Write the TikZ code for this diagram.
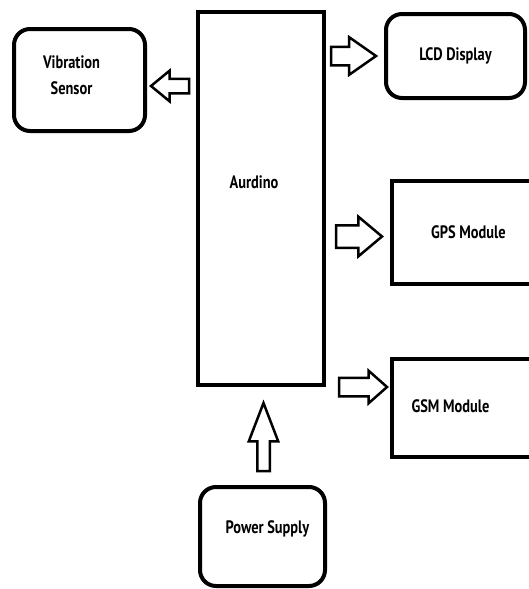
\documentclass[tikz,border=0pt]{standalone}
\usepackage{fontspec}
\newfontfamily\blockfont[FakeStretch=0.8]{PT Sans}
\usetikzlibrary{positioning, shapes.arrows}

\begin{document}
\begin{tikzpicture}[
  x=1pt, y=-1pt,
  lbl/.style={font=\blockfont\bfseries\fontsize{18}{26}\selectfont},
  blk/.style={draw, line width=4pt, outer sep=0pt, align=center, lbl},
  rblk/.style={blk, rounded corners=16pt},
  barrow/.style={single arrow, draw, fill=white, line width=2.5pt, outer sep=0pt,
                 minimum width=0pt, single arrow head indent=0pt},
]
  \useasboundingbox (0,0) rectangle (529,589);

  % Controller
  \node[blk, minimum width=126pt, minimum height=373pt,
        label={[xshift=-7pt, yshift=16pt, lbl]center:Aurdino}]
        (ard) at (261,198.5) {};

  % Peripherals
  \node[rblk, minimum width=131pt, minimum height=102pt,
        label={[xshift=-8pt, yshift=5pt, align=center, lbl]center:Vibration\\Sensor}]
        (vib) at (79.5,80) {};
  \node[rblk, minimum width=139pt, minimum height=84pt] (lcd) at (455.5,56) {LCD Display};
  \node[blk, minimum width=153pt, minimum height=103pt] (gps) at (468.5,232.5) {GPS Module};
  \node[blk, minimum width=153pt, minimum height=98pt,
        label={[xshift=-18pt, yshift=2pt, lbl]center:GSM Module}]
        (gsm) at (468.5,408) {};
  \node[rblk, minimum width=125pt, minimum height=99pt,
        label={[xshift=5pt, yshift=8pt, lbl]center:Power Supply}]
        (pwr) at (262.5,536.5) {};

  % Block arrows
  \node[barrow, shape border rotate=180, anchor=tail, minimum height=38pt,
        inner xsep=0pt, inner ysep=6pt, single arrow head extend=8pt, single arrow tip angle=79]
        (tovib) at ([xshift=-9pt, yshift=-6pt]ard.west |- vib.center) {};
  \node[barrow, anchor=tail, minimum height=45pt,
        inner xsep=0pt, inner ysep=8pt, single arrow head extend=9.5pt, single arrow tip angle=70]
        (tolcd) at ([xshift=7pt]ard.east |- lcd.center) {};
  \node[barrow, anchor=tail, minimum height=46pt,
        inner xsep=0pt, inner ysep=10pt, single arrow head extend=8.5pt, single arrow tip angle=80]
        (togps) at ([xshift=12pt, yshift=-4pt]ard.east |- gps.center) {};
  \node[barrow, anchor=tail, minimum height=48pt,
        inner xsep=0pt, inner ysep=8pt, single arrow head extend=7pt, single arrow tip angle=83]
        (togsm) at ([xshift=15pt, yshift=21pt]ard.east |- gsm.center) {};
  \node[barrow, shape border rotate=90, anchor=tail, minimum height=68pt,
        inner xsep=5pt, inner ysep=0pt, single arrow head extend=8.5pt, single arrow tip angle=42]
        (topwr) at ([xshift=1pt, yshift=16pt]pwr.north) {};
\end{tikzpicture}
\end{document}
